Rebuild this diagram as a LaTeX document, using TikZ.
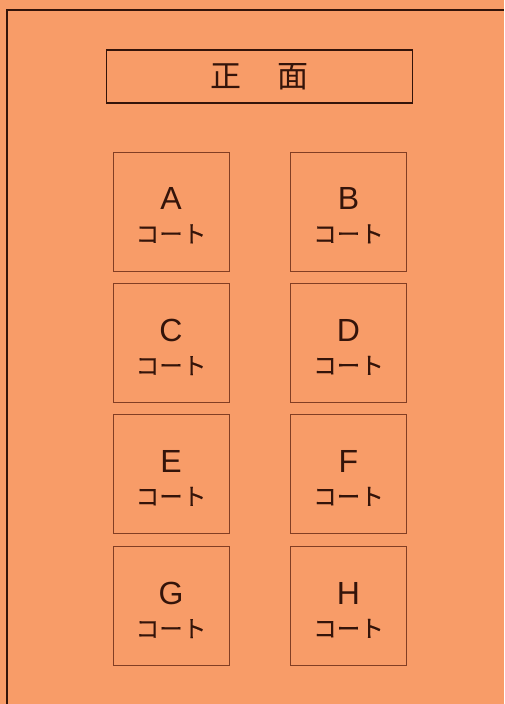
\documentclass[tikz,border=0pt]{standalone}
\usepackage{fontspec}
\setmainfont{Liberation Sans}
\newfontfamily\jpfont[FakeBold=0.6]{Noto Sans CJK JP}
\newfontfamily\titlefont{Noto Sans CJK JP}
\definecolor{hallbg}{RGB}{248,156,104}
\definecolor{hallline}{RGB}{52,20,10}
\definecolor{courtline}{RGB}{130,62,36}
\tikzset{
  court/.style={draw=courtline,line width=0.9pt,minimum width=116pt,minimum height=119pt,inner sep=0pt},
  courttext/.style={align=center,inner sep=0pt,text=hallline,font=\fontsize{32}{33}\selectfont,yshift=-4pt},
}
\newcommand{\courtname}[1]{#1\\{\jpfont\fontsize{23.5}{24}\selectfont コート}}

\begin{document}
\begin{tikzpicture}[x=1pt,y=-1pt]
  \fill[hallbg] (0,0) rectangle (504,704);
  \useasboundingbox (0,0) rectangle (504,704);
  \draw[hallline,line width=2pt] (7,704) -- (7,10) -- (504,10);
  \node[draw=hallline,line width=1.8pt,minimum width=306pt,minimum height=53pt,inner sep=0pt] (front) at (259.5,76.5)
    {\titlefont\fontsize{31}{32}\selectfont\color{hallline}正\hspace{37pt}面};
  % courts
  \node[court] (courtA) at (171,211.5) {};
  \node[court] (courtB) at (348.5,211.5) {};
  \node[court] (courtC) at (171,343) {};
  \node[court] (courtD) at (348.5,343) {};
  \node[court] (courtE) at (171,474) {};
  \node[court] (courtF) at (348.5,474) {};
  \node[court] (courtG) at (171,606) {};
  \node[court] (courtH) at (348.5,606) {};
  \node[courttext] (nameA) at (courtA) {\courtname{A}};
  \node[courttext] (nameB) at (courtB) {\courtname{B}};
  \node[courttext] (nameC) at (courtC) {\courtname{C}};
  \node[courttext] (nameD) at (courtD) {\courtname{D}};
  \node[courttext] (nameE) at (courtE) {\courtname{E}};
  \node[courttext] (nameF) at (courtF) {\courtname{F}};
  \node[courttext] (nameG) at (courtG) {\courtname{G}};
  \node[courttext] (nameH) at (courtH) {\courtname{H}};
\end{tikzpicture}
\end{document}
